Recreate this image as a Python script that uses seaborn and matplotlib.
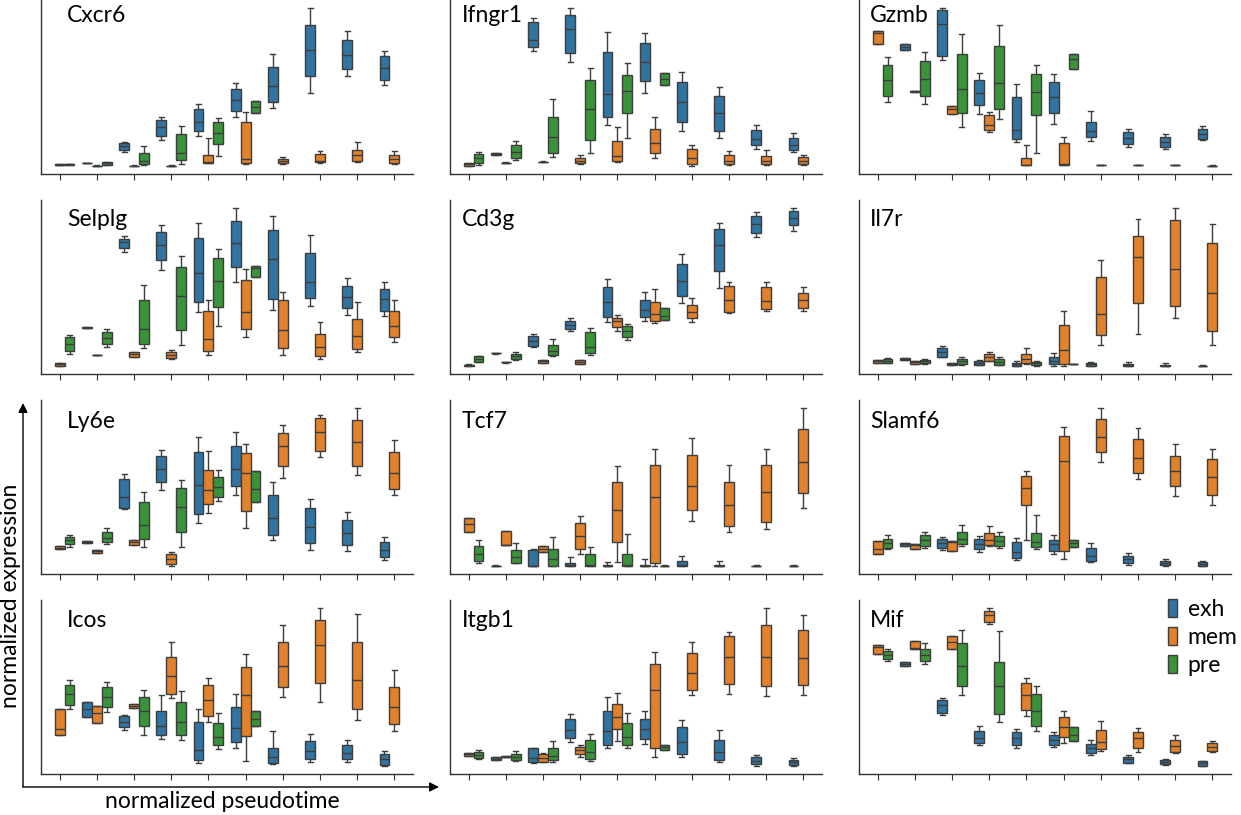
import numpy as np
import pandas as pd
import matplotlib
matplotlib.use("Agg")
import matplotlib.pyplot as plt
from matplotlib.patches import FancyArrowPatch
import seaborn as sns

plt.rcParams["font.family"] = ["Lato", "DejaVu Sans"]

# ---------------- data: [low whisker, Q1, median, Q3, high whisker] per box ----------------
GROUPS = ["exh", "mem", "pre"]
BINS = [f"t{i}" for i in range(10)]
GENES = ["Cxcr6", "Ifngr1", "Gzmb", "Selplg", "Cd3g", "Il7r",
         "Ly6e", "Tcf7", "Slamf6", "Icos", "Itgb1", "Mif"]
PALETTE = ["#1f77b4", "#ff7f0e", "#2ca02c"]

CXCR6_EXH = [None, [1.08, 1.09, 1.09, 1.09, 1.10], [1.42, 1.48, 1.60, 1.70, 1.72], [1.78, 1.90, 2.17, 2.40, 2.48],
             [1.91, 2.05, 2.34, 2.72, 2.87], [2.49, 2.66, 3.00, 3.32, 3.52], [2.75, 2.95, 3.41, 4.00, 4.40],
             [3.22, 3.72, 4.52, 5.25, 5.78], [3.71, 3.93, 4.37, 4.82, 5.09], [3.44, 3.61, 3.97, 4.34, 4.49]]
CXCR6_MEM = [[1.03, 1.04, 1.04, 1.05, 1.05], [1.00, 1.01, 1.01, 1.01, 1.02], [1.00, 1.01, 1.01, 1.01, 1.02],
             [1.00, 1.01, 1.01, 1.01, 1.02], [1.08, 1.09, 1.13, 1.33, 1.85], [1.07, 1.09, 1.20, 2.33, 2.62],
             [1.05, 1.08, 1.15, 1.22, 1.28], [1.10, 1.11, 1.14, 1.36, 1.45], [1.12, 1.16, 1.34, 1.49, 1.72],
             [1.05, 1.09, 1.21, 1.34, 1.45]]
CXCR6_PRE = [[1.03, 1.04, 1.05, 1.06, 1.07], [1.03, 1.03, 1.08, 1.12, 1.12], [1.03, 1.05, 1.16, 1.40, 1.61],
             [1.05, 1.17, 1.41, 1.97, 2.20], [1.32, 1.68, 2.01, 2.33, 2.45], [2.61, 2.61, 2.78, 2.97, 2.97],
             None, None, None, None]

IFNGR1_EXH = [None, [1.32, 1.32, 1.35, 1.39, 1.39], [4.48, 4.59, 4.82, 5.35, 5.48], [4.14, 4.42, 5.13, 5.57, 5.78],
              [2.22, 2.48, 3.17, 4.45, 5.05], [3.20, 3.56, 4.14, 4.73, 5.02], [2.06, 2.33, 2.92, 3.53, 3.84],
              [1.85, 2.06, 2.60, 3.10, 3.40], [1.51, 1.62, 1.82, 2.07, 2.24], [1.43, 1.48, 1.64, 1.85, 1.99]]
IFNGR1_MEM = [[1.00, 1.00, 1.04, 1.08, 1.08], [1.08, 1.09, 1.09, 1.09, 1.10], [1.11, 1.12, 1.12, 1.12, 1.13],
              [1.04, 1.09, 1.15, 1.24, 1.34], [1.11, 1.15, 1.29, 1.76, 2.17], [1.24, 1.40, 1.70, 2.11, 2.48],
              [0.99, 1.05, 1.23, 1.52, 1.63], [1.01, 1.05, 1.13, 1.33, 1.44], [1.02, 1.06, 1.13, 1.31, 1.48],
              [1.02, 1.05, 1.14, 1.26, 1.33]]
IFNGR1_PRE = [[1.01, 1.07, 1.23, 1.37, 1.43], [1.17, 1.23, 1.41, 1.62, 1.76], [1.27, 1.38, 1.86, 2.49, 3.02],
              [1.40, 1.79, 2.73, 3.60, 3.97], [1.83, 2.59, 3.27, 3.76, 4.12], [3.44, 3.44, 3.63, 3.80, 3.80],
              None, None, None, None]

GZMB_EXH = [None, [4.52, 4.52, 4.60, 4.70, 4.70], [4.20, 4.33, 5.28, 5.72, 5.78], [2.57, 2.84, 3.21, 3.59, 3.80],
            [1.73, 1.81, 2.08, 3.08, 3.48], [2.27, 2.60, 3.08, 3.55, 3.78], [1.76, 1.87, 2.07, 2.33, 2.66],
            [1.58, 1.67, 1.86, 2.03, 2.13], [1.51, 1.58, 1.73, 1.88, 1.97], [1.78, 1.82, 1.96, 2.11, 2.21]]
GZMB_MEM = [[4.70, 4.70, 5.02, 5.09, 5.09], [3.24, 3.24, 3.26, 3.28, 3.28], [2.58, 2.58, 2.73, 2.82, 2.82],
            [2.03, 2.09, 2.24, 2.54, 2.62], [1.03, 1.03, 1.04, 1.25, 1.65], [1.03, 1.03, 1.07, 1.69, 1.89],
            [1.02, 1.03, 1.03, 1.03, 1.04], [1.02, 1.03, 1.03, 1.03, 1.04], [1.02, 1.03, 1.03, 1.03, 1.04],
            [1.00, 1.01, 1.01, 1.01, 1.02]]
GZMB_PRE = [[2.94, 3.11, 3.59, 4.04, 4.29], [2.89, 3.11, 3.64, 4.17, 4.45], [2.17, 2.60, 3.32, 4.40, 5.00],
            [2.42, 2.74, 3.51, 4.62, 5.27], [1.40, 2.53, 3.25, 3.78, 4.04], [3.92, 3.92, 4.23, 4.40, 4.40],
            None, None, None, None]

SELPLG_EXH = [None, [1.85, 1.85, 1.86, 1.87, 1.87], [4.14, 4.25, 4.43, 4.52, 4.62], [3.60, 3.90, 4.34, 4.73, 4.94],
              [2.32, 2.63, 3.50, 4.55, 5.00], [3.23, 3.70, 4.40, 5.09, 5.47], [2.40, 2.72, 3.93, 4.81, 5.24],
              [2.50, 2.74, 3.24, 4.11, 4.64], [2.25, 2.45, 2.78, 3.13, 3.35], [2.20, 2.37, 2.71, 3.03, 3.25]]
SELPLG_MEM = [[0.70, 0.70, 0.75, 0.80, 0.80], [1.02, 1.03, 1.03, 1.03, 1.04], [0.98, 0.98, 1.06, 1.13, 1.13],
              [0.90, 0.93, 1.04, 1.12, 1.20], [1.02, 1.16, 1.53, 2.37, 2.69], [1.59, 1.82, 2.33, 3.31, 3.64],
              [1.02, 1.25, 1.79, 2.68, 2.94], [0.91, 0.99, 1.29, 1.67, 2.02], [1.11, 1.22, 1.60, 2.12, 2.62],
              [1.43, 1.59, 1.90, 2.36, 2.69]]
SELPLG_PRE = [[1.05, 1.17, 1.38, 1.57, 1.65], [1.27, 1.36, 1.54, 1.73, 1.81], [1.24, 1.36, 1.83, 2.68, 3.15],
              [1.35, 1.79, 2.80, 3.69, 4.02], [1.91, 2.48, 3.27, 3.95, 4.24], [3.39, 3.39, 3.66, 3.71, 3.71],
              None, None, None, None]

CD3G_EXH = [None, [1.07, 1.08, 1.08, 1.08, 1.09], [1.28, 1.31, 1.47, 1.60, 1.67], [1.75, 1.81, 1.94, 2.06, 2.14],
            [2.04, 2.17, 2.64, 3.09, 3.32], [2.06, 2.17, 2.39, 2.68, 2.93], [2.60, 2.80, 3.27, 3.78, 4.07],
            [3.06, 3.56, 4.34, 4.83, 5.01], [4.58, 4.72, 4.99, 5.24, 5.36], [4.77, 4.94, 5.18, 5.37, 5.47]]
CD3G_MEM = [[0.70, 0.71, 0.72, 0.74, 0.75], [0.80, 0.81, 0.81, 0.81, 0.82], [0.80, 0.80, 0.84, 0.89, 0.89],
            [0.76, 0.76, 0.83, 0.89, 0.89], [1.76, 1.87, 2.06, 2.15, 2.23], [1.99, 2.06, 2.28, 2.62, 3.02],
            [2.04, 2.14, 2.33, 2.54, 2.75], [2.29, 2.34, 2.70, 3.11, 3.25], [2.36, 2.41, 2.66, 3.08, 3.25],
            [2.36, 2.46, 2.68, 2.90, 3.07]]
CD3G_PRE = [[0.83, 0.83, 0.91, 0.99, 0.99], [0.89, 0.92, 1.00, 1.07, 1.12], [0.99, 1.04, 1.16, 1.34, 1.52],
            [1.03, 1.09, 1.27, 1.73, 1.85], [1.48, 1.57, 1.76, 1.91, 1.98], [2.08, 2.08, 2.22, 2.45, 2.45],
            None, None, None, None]

IL7R_EXH = [None, [0.88, 0.88, 0.90, 0.93, 0.93], [0.95, 0.97, 1.12, 1.24, 1.31], [0.71, 0.72, 0.78, 0.84, 0.88],
            [0.69, 0.70, 0.74, 0.79, 0.85], [0.70, 0.74, 0.84, 0.97, 1.10], [0.69, 0.70, 0.74, 0.78, 0.82],
            [0.69, 0.69, 0.72, 0.76, 0.81], [0.69, 0.69, 0.70, 0.72, 0.78], [0.69, 0.70, 0.70, 0.70, 0.71]]
IL7R_MEM = [[0.79, 0.79, 0.83, 0.86, 0.86], [0.75, 0.75, 0.80, 0.84, 0.84], [0.73, 0.73, 0.75, 0.78, 0.78],
            [0.83, 0.85, 0.95, 1.06, 1.11], [0.75, 0.78, 0.91, 1.07, 1.24], [0.70, 0.74, 1.18, 1.92, 2.34],
            [1.32, 1.62, 2.27, 3.37, 3.90], [1.66, 2.60, 3.98, 4.61, 5.12], [2.13, 2.50, 3.62, 5.09, 5.47],
            [1.34, 1.75, 2.91, 4.40, 4.99]]
IL7R_PRE = [[0.77, 0.79, 0.85, 0.89, 0.92], [0.76, 0.78, 0.84, 0.88, 0.90], [0.73, 0.74, 0.83, 0.90, 0.95],
            [0.71, 0.73, 0.81, 0.89, 0.95], [0.70, 0.71, 0.77, 0.81, 0.83], [0.74, 0.75, 0.75, 0.75, 0.76],
            None, None, None, None]

LY6E_EXH = [None, [1.39, 1.39, 1.43, 1.47, 1.47], [2.43, 2.46, 2.79, 3.32, 3.47], [2.99, 3.24, 3.62, 4.01, 4.19],
            [2.01, 2.28, 3.15, 4.15, 4.58], [2.86, 3.11, 3.64, 4.31, 4.75], [1.51, 1.66, 2.16, 2.84, 3.24],
            [1.19, 1.41, 1.89, 2.45, 2.74], [1.16, 1.34, 1.70, 2.09, 2.33], [0.88, 0.98, 1.19, 1.44, 1.59]]
LY6E_MEM = [[1.22, 1.22, 1.26, 1.30, 1.30], [1.11, 1.11, 1.15, 1.19, 1.19], [1.35, 1.35, 1.43, 1.50, 1.50],
            [0.71, 0.76, 0.92, 1.07, 1.12], [2.32, 2.58, 3.01, 3.60, 4.17], [1.85, 2.36, 3.52, 4.11, 4.39],
            [3.35, 3.73, 4.31, 4.73, 4.95], [3.99, 4.16, 4.76, 5.18, 5.26], [3.46, 3.73, 4.45, 5.10, 5.47],
            [2.84, 3.04, 3.50, 4.13, 4.51]]
LY6E_PRE = [[1.29, 1.36, 1.49, 1.59, 1.65], [1.38, 1.43, 1.57, 1.75, 1.87], [1.29, 1.52, 1.94, 2.65, 2.94],
            [1.29, 1.74, 2.48, 3.05, 3.31], [2.67, 2.78, 3.09, 3.40, 3.61], [2.63, 2.63, 3.03, 3.57, 3.57],
            None, None, None, None]

TCF7_EXH = [None, [0.69, 0.70, 0.70, 0.70, 0.71], [0.70, 0.70, 0.70, 1.17, 1.21], [0.70, 0.70, 0.72, 0.77, 0.97],
            [0.70, 0.70, 0.70, 0.71, 0.82], [0.70, 0.70, 0.70, 0.71, 0.89], [0.70, 0.70, 0.71, 0.85, 0.98],
            [0.70, 0.70, 0.70, 0.71, 0.85], [0.69, 0.70, 0.70, 0.70, 0.71], [0.69, 0.70, 0.70, 0.70, 0.71]]
TCF7_MEM = [[1.72, 1.72, 1.95, 2.14, 2.14], [1.32, 1.32, 1.34, 1.76, 1.76], [1.13, 1.13, 1.22, 1.30, 1.30],
            [1.07, 1.22, 1.59, 1.98, 2.20], [0.81, 1.41, 2.38, 3.23, 3.71], [0.70, 0.79, 2.78, 3.74, 4.24],
            [2.05, 2.39, 3.10, 4.04, 4.55], [1.72, 1.90, 2.54, 3.24, 3.75], [1.81, 2.01, 2.92, 3.73, 4.24],
            [2.46, 2.90, 3.85, 4.82, 5.47]]
TCF7_PRE = [[0.79, 0.85, 1.07, 1.31, 1.48], [0.77, 0.79, 0.95, 1.18, 1.39], [0.70, 0.70, 0.89, 1.22, 1.57],
            [0.70, 0.70, 0.71, 1.05, 1.28], [0.70, 0.70, 0.71, 1.05, 1.66], [0.69, 0.70, 0.70, 0.70, 0.71],
            None, None, None, None]

SLAMF6_EXH = [None, [1.31, 1.31, 1.36, 1.40, 1.40], [1.19, 1.25, 1.38, 1.50, 1.56], [1.13, 1.20, 1.35, 1.51, 1.61],
              [0.86, 0.92, 1.12, 1.41, 1.54], [1.06, 1.16, 1.35, 1.49, 1.62], [0.81, 0.84, 1.00, 1.25, 1.39],
              [0.72, 0.79, 0.90, 1.01, 1.09], [0.70, 0.71, 0.78, 0.85, 0.90], [0.69, 0.70, 0.76, 0.82, 0.84]]
SLAMF6_MEM = [[1.07, 1.07, 1.20, 1.45, 1.45], [1.20, 1.20, 1.34, 1.37, 1.37], [1.16, 1.16, 1.42, 1.46, 1.46],
              [1.31, 1.33, 1.49, 1.70, 1.90], [1.49, 2.54, 3.05, 3.41, 3.56], [0.89, 1.16, 3.87, 4.62, 4.88],
              [3.84, 4.14, 4.58, 5.13, 5.47], [3.32, 3.50, 3.95, 4.54, 4.87], [2.81, 3.11, 3.57, 4.02, 4.38],
              [2.55, 2.83, 3.38, 3.94, 4.24]]
SLAMF6_PRE = [[1.21, 1.25, 1.39, 1.52, 1.63], [1.25, 1.31, 1.47, 1.62, 1.73], [1.29, 1.37, 1.52, 1.72, 1.94],
              [1.23, 1.30, 1.44, 1.59, 1.72], [1.21, 1.28, 1.42, 1.68, 2.24], [1.27, 1.27, 1.38, 1.49, 1.49],
              None, None, None, None]

ICOS_EXH = [None, [2.19, 2.19, 2.43, 2.64, 2.64], [1.80, 1.89, 2.05, 2.22, 2.24], [1.52, 1.64, 1.92, 2.36, 2.84],
            [0.81, 0.88, 1.19, 2.03, 2.43], [1.27, 1.45, 1.86, 2.48, 2.87], [0.77, 0.81, 0.99, 1.26, 1.76],
            [0.83, 0.93, 1.16, 1.46, 1.67], [0.83, 0.91, 1.10, 1.35, 1.50], [0.71, 0.75, 0.92, 1.07, 1.18]]
ICOS_MEM = [[1.64, 1.64, 1.82, 2.42, 2.42], [2.00, 2.00, 2.32, 2.53, 2.53], [2.45, 2.45, 2.52, 2.57, 2.57],
            [2.75, 2.89, 3.44, 4.01, 4.45], [2.03, 2.21, 2.69, 3.17, 3.38], [0.85, 1.63, 2.84, 3.71, 4.08],
            [2.80, 3.10, 3.74, 4.45, 4.97], [2.65, 3.23, 4.35, 5.12, 5.48], [2.11, 2.43, 3.32, 4.45, 5.30],
            [1.76, 1.98, 2.48, 3.09, 3.61]]
ICOS_PRE = [[2.43, 2.55, 2.87, 3.17, 3.32], [2.33, 2.50, 2.79, 3.10, 3.26], [1.64, 1.91, 2.36, 2.78, 3.01],
            [1.49, 1.65, 2.05, 2.63, 2.96], [1.23, 1.34, 1.60, 2.00, 2.30], [1.91, 1.91, 2.12, 2.38, 2.38],
            None, None, None, None]

ITGB1_EXH = [None, [0.89, 0.89, 0.93, 0.98, 0.98], [0.79, 0.82, 0.96, 1.24, 1.26], [1.43, 1.55, 1.81, 2.12, 2.27],
             [1.25, 1.35, 1.76, 2.36, 2.78], [1.37, 1.52, 1.82, 2.14, 2.36], [0.97, 1.07, 1.43, 1.88, 2.11],
             [0.82, 0.88, 1.12, 1.51, 1.81], [0.72, 0.77, 0.86, 0.98, 1.04], [0.71, 0.73, 0.82, 0.90, 0.94]]
ITGB1_MEM = [[1.01, 1.01, 1.06, 1.10, 1.10], [0.97, 0.97, 0.98, 1.00, 1.00], [0.82, 0.83, 0.95, 1.07, 1.09],
             [0.98, 1.06, 1.19, 1.27, 1.34], [1.45, 1.82, 2.19, 2.59, 2.92], [0.99, 1.25, 3.01, 3.77, 4.15],
             [2.86, 3.01, 3.50, 4.12, 4.43], [2.87, 3.17, 4.00, 4.61, 4.74], [2.82, 3.11, 3.98, 4.96, 5.47],
             [2.85, 3.16, 3.95, 4.80, 5.25]]
ITGB1_PRE = [[0.93, 0.95, 1.05, 1.13, 1.19], [0.86, 0.90, 0.99, 1.08, 1.15], [0.83, 0.88, 1.02, 1.25, 1.45],
             [0.86, 0.92, 1.13, 1.49, 1.67], [1.25, 1.34, 1.59, 2.00, 2.32], [1.20, 1.20, 1.28, 1.35, 1.35],
             None, None, None, None]

MIF_EXH = [None, [3.41, 3.41, 3.47, 3.53, 3.53], [1.94, 2.00, 2.23, 2.39, 2.44], [1.04, 1.11, 1.26, 1.46, 1.60],
           [0.96, 1.05, 1.25, 1.42, 1.53], [0.98, 1.04, 1.18, 1.33, 1.42], [0.72, 0.80, 0.95, 1.08, 1.19],
           [0.48, 0.50, 0.60, 0.68, 0.72], [0.44, 0.45, 0.52, 0.58, 0.60], [0.40, 0.41, 0.48, 0.54, 0.55]]
MIF_MEM = [[3.79, 3.79, 4.00, 4.06, 4.06], [3.94, 3.94, 3.95, 4.18, 4.18], [3.93, 3.93, 4.14, 4.33, 4.33],
           [4.69, 4.76, 4.96, 5.07, 5.17], [1.92, 2.09, 2.54, 2.90, 3.07], [1.11, 1.28, 1.59, 1.89, 2.05],
           [0.84, 0.92, 1.13, 1.50, 1.75], [0.83, 0.95, 1.26, 1.43, 1.54], [0.80, 0.83, 1.01, 1.19, 1.35],
           [0.82, 0.86, 0.98, 1.09, 1.16]]
MIF_PRE = [[3.57, 3.63, 3.76, 3.88, 3.94], [3.47, 3.56, 3.74, 3.94, 4.10], [2.53, 2.81, 3.41, 4.10, 4.51],
           [1.73, 1.97, 2.81, 3.54, 4.48], [1.46, 1.62, 2.06, 2.58, 2.83], [1.17, 1.17, 1.35, 1.59, 1.59],
           None, None, None, None]

SERIES = {
    "Cxcr6": (CXCR6_EXH, CXCR6_MEM, CXCR6_PRE), "Ifngr1": (IFNGR1_EXH, IFNGR1_MEM, IFNGR1_PRE),
    "Gzmb": (GZMB_EXH, GZMB_MEM, GZMB_PRE), "Selplg": (SELPLG_EXH, SELPLG_MEM, SELPLG_PRE),
    "Cd3g": (CD3G_EXH, CD3G_MEM, CD3G_PRE), "Il7r": (IL7R_EXH, IL7R_MEM, IL7R_PRE),
    "Ly6e": (LY6E_EXH, LY6E_MEM, LY6E_PRE), "Tcf7": (TCF7_EXH, TCF7_MEM, TCF7_PRE),
    "Slamf6": (SLAMF6_EXH, SLAMF6_MEM, SLAMF6_PRE), "Icos": (ICOS_EXH, ICOS_MEM, ICOS_PRE),
    "Itgb1": (ITGB1_EXH, ITGB1_MEM, ITGB1_PRE), "Mif": (MIF_EXH, MIF_MEM, MIF_PRE),
}

rows = []
for gene, series in SERIES.items():
    for grp, boxes in zip(GROUPS, series):
        for b, stats in zip(BINS, boxes):
            if stats is None:
                continue
            for v in stats:
                rows.append((gene, grp, b, v))
df = pd.DataFrame(rows, columns=["gene", "group", "bin", "value"])

# ---------------- layout ----------------
W, H = 1241, 815
fig = plt.figure(figsize=(W / 100, H / 100), dpi=100)
col_left = [41, 450, 859]
row_top = [0, 200, 400, 600]
ax_w, ax_h = 372, 174
title_dx = [26, 12, 11]
title_dy = [5, 9, 11, 10]
FS = 16.5

for i, gene in enumerate(GENES):
    r, c = divmod(i, 3)
    ax = fig.add_axes([col_left[c] / W, 1 - (row_top[r] + ax_h) / H, ax_w / W, ax_h / H])
    sub = df[df["gene"] == gene]
    sns.boxplot(data=sub, x="bin", y="value", hue="group", order=BINS, hue_order=GROUPS,
                palette=PALETTE, whis=(0, 100), linewidth=1.0, ax=ax,
                legend=(i == len(GENES) - 1))
    ax.set_xlabel("")
    ax.set_ylabel("")
    ax.set_yticks([])
    ax.tick_params(axis="x", labelbottom=False, length=4, width=0.8, color="#333333")
    sns.despine(ax=ax)
    for s in ("left", "bottom"):
        ax.spines[s].set_color("#333333")
        ax.spines[s].set_linewidth(1.0)
    ax.text(title_dx[c] / ax_w, 1 - title_dy[r] / ax_h, gene, transform=ax.transAxes,
            ha="left", va="top", fontsize=FS)
    if i == len(GENES) - 1:
        sns.move_legend(ax, "upper right", bbox_to_anchor=(1.042, 1.06), frameon=False, title=None,
                        fontsize=FS, handlelength=0.42, handleheight=0.85, handletextpad=0.45,
                        labelspacing=0.3, borderaxespad=0.0)

# ---------------- figure-level axis arrows ----------------
x0, y0 = 23, 787
fig.add_artist(FancyArrowPatch((x0 / W, 1 - y0 / H), (x0 / W, 1 - 403 / H), transform=fig.transFigure,
                               arrowstyle="-|>", mutation_scale=14, lw=1.0, color="black",
                               shrinkA=0, shrinkB=0))
fig.add_artist(FancyArrowPatch((x0 / W, 1 - y0 / H), (439 / W, 1 - y0 / H), transform=fig.transFigure,
                               arrowstyle="-|>", mutation_scale=14, lw=1.0, color="black",
                               shrinkA=0, shrinkB=0))
fig.text(11 / W, 1 - 596 / H, "normalized expression", rotation=90, ha="center", va="center", fontsize=FS)
fig.text(222 / W, 1 - 802 / H, "normalized pseudotime", ha="center", va="center", fontsize=FS)

fig.savefig("out.png", dpi=100)
